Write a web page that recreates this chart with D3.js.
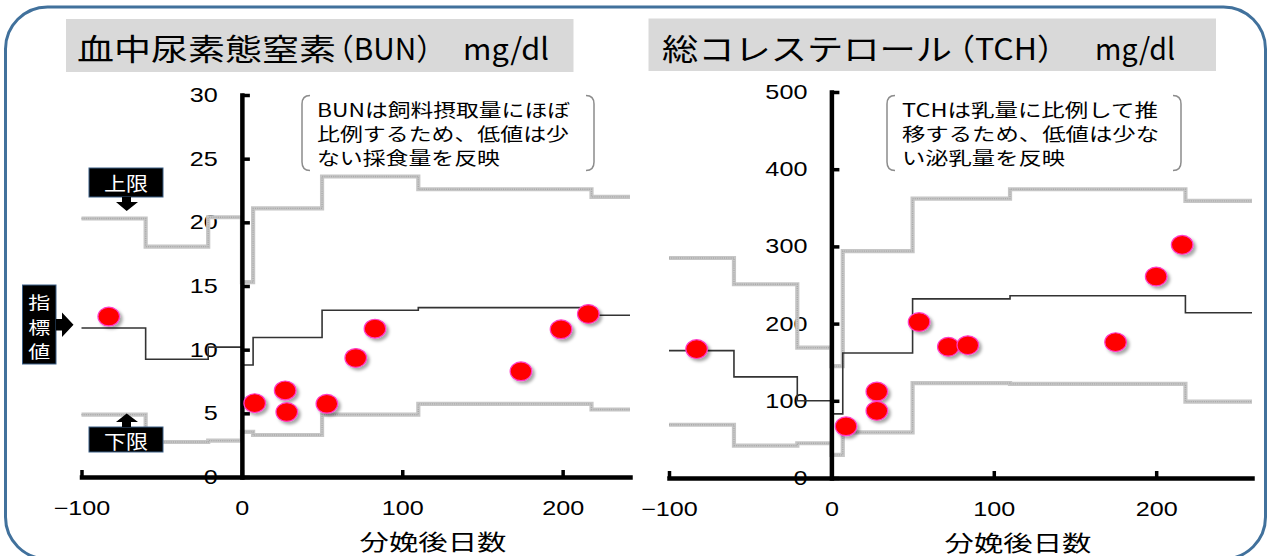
<!DOCTYPE html>
<html><head><meta charset="utf-8">
<script src="https://cdnjs.cloudflare.com/ajax/libs/d3/7.8.5/d3.min.js"></script>
<style>body{margin:0;background:#fff}svg{display:block}</style>
</head><body><svg id="c" width="1269" height="556"></svg>
<script>
// ---- data ----
const bunDays = [-83, 8, 27, 28, 53, 71, 83, 174, 199, 216];
const bunValues = [12.6, 5.8, 6.8, 5.1, 5.75, 9.35, 11.65, 8.3, 11.6, 12.8];
const tchDays = [-83, 9, 28, 28, 54, 72, 84, 175, 200, 216];
const tchValues = [167, 67, 112, 87, 202, 170, 172, 176, 261, 302];
const stepDays = [-100, -60, -21, 0, 7, 50, 110, 218];
const bunIndex = [11.7, 9.25, 10.2, 8.8, 10.95, 13.1, 13.3, 12.7];
const bunUpper = [20.3, 18.1, 20.4, 15.3, 21.1, 23.6, 22.6, 22.0];
const bunLower = [4.9, 2.75, 2.85, 3.55, 3.3, 4.9, 5.75, 5.3];
const tchIndex = [165, 131, 100, 83, 162, 232, 236, 214];
const tchUpper = [285, 251, 169, 145, 294, 362, 374, 359];
const tchLower = [69, 42, 45, 30, 59, 123, 122, 99];
const bunYTicks = [0, 5, 10, 15, 20, 25, 30];
const tchYTicks = [0, 100, 200, 300, 400, 500];
const xTicks = [-100, 0, 100, 200];
const bunXMax = 242, tchXMax = 259;
const bunTitle = ["血中尿素態窒素", "（BUN）", "mg/dl"];
const tchTitle = ["総コレステロール", "（TCH）", "mg/dl"];
const bunNote = ["BUNは飼料摂取量にほぼ", "比例するため、低値は少", "ない採食量を反映"];
const tchNote = ["TCHは乳量に比例して推", "移するため、低値は少な", "い泌乳量を反映"];
const xTitle = "分娩後日数";
const labelUpper = "上限", labelLower = "下限", labelIndex = ["指", "標", "値"];

// ---- drawing ----
const svg = d3.select("#c");
const JP = "'Noto Sans CJK JP','Noto Sans',sans-serif";
const LAT = "'Liberation Sans',Arial,sans-serif";
const defs = svg.append("defs");
const flt = defs.append("filter").attr("id", "sh").attr("x", "-50%").attr("y", "-50%").attr("width", "200%").attr("height", "200%");
flt.append("feDropShadow").attr("dx", 2.5).attr("dy", 2.5).attr("stdDeviation", 1.4)
  .attr("flood-color", "#000").attr("flood-opacity", 0.35);

svg.append("rect").attr("x", 5.5).attr("y", 7).attr("width", 1260).attr("height", 552).attr("rx", 42)
  .attr("fill", "#fff").attr("stroke", "#41719c").attr("stroke-width", 3);

function txt(g, s, x, y, size, len, opts = {}) {
  const t = g.append("text").attr("x", x).attr("y", y).attr("font-size", size)
    .attr("font-family", opts.family || JP).attr("fill", opts.fill || "#000")
    .attr("dominant-baseline", "central").text(s);
  if (opts.anchor) t.attr("text-anchor", opts.anchor);
  if (len) t.attr("textLength", len).attr("lengthAdjust", "spacingAndGlyphs");
  return t;
}

const panels = [
  { xMax: bunXMax, xr: [81.5, 630], yMax: 30, yr: [477, 95], yTicks: bunYTicks,
    days: bunDays, vals: bunValues, idx: bunIndex, up: bunUpper, lo: bunLower,
    box: [66, 19, 507.5, 53], title: bunTitle, tx: [[77, 259], [324, 122], [463, 86]],
    note: bunNote, nx: 317, nlen: [253, 252, 183], br: [302, 594], xt: [433, 540] },
  { xMax: tchXMax, xr: [669, 1252], yMax: 500, yr: [478, 92], yTicks: tchYTicks,
    days: tchDays, vals: tchValues, idx: tchIndex, up: tchUpper, lo: tchLower,
    box: [648.5, 18.5, 567.5, 52.5], title: tchTitle, tx: [[662, 290], [943, 126], [1095, 80]],
    note: tchNote, nx: 902, nlen: [256, 257, 163], br: [887, 1181], xt: [1018, 541] }
];

const SX = 1.26;
panels.forEach(p => {
  const g = svg.append("g");
  // title box
  g.append("rect").attr("x", p.box[0]).attr("y", p.box[1]).attr("width", p.box[2]).attr("height", p.box[3]).attr("fill", "#d9d9d9");
  p.title.forEach((s, i) => txt(g, s, p.tx[i][0], 46.5, 30, p.tx[i][1]));
  // note brackets
  const [bl, brr] = p.br;
  g.append("path").attr("d", `M${bl + 8},95.5 Q${bl},95.5 ${bl},104 L${bl},162 Q${bl},170.5 ${bl + 8},170.5`)
    .attr("fill", "none").attr("stroke", "#8c8c8c").attr("stroke-width", 1.5);
  g.append("path").attr("d", `M${brr - 8},95.5 Q${brr},95.5 ${brr},104 L${brr},162 Q${brr},170.5 ${brr - 8},170.5`)
    .attr("fill", "none").attr("stroke", "#8c8c8c").attr("stroke-width", 1.5);
  p.note.forEach((s, i) => txt(g, s, p.nx, 108.5 + i * 24, 18, p.nlen[i]));

  const x = d3.scaleLinear().domain([-100, p.xMax]).range(p.xr);
  const y = d3.scaleLinear().domain([0, p.yMax]).range(p.yr);
  const x0 = x(0);

  // y tick labels (under series)
  const yl = g.append("g").attr("font-family", LAT).attr("font-size", 20).attr("fill", "#000");
  p.yTicks.forEach(v => {
    yl.append("text").attr("transform", `translate(${x0 - 24},${y(v)}) scale(${SX},1)`)
      .attr("text-anchor", "end").attr("dy", "0.35em").text(v);
  });

  const line = d3.line().x(d => x(d[0])).y(d => y(d[1])).curve(d3.curveStepAfter);
  const pts = arr => stepDays.map((d, i) => [d, arr[i]]).concat([[p.xMax, arr[arr.length - 1]]]);
  [p.up, p.lo].forEach(arr => {
    g.append("path").attr("d", line(pts(arr))).attr("fill", "none").attr("stroke", "#c6c6c6").attr("stroke-width", 4.2);
    g.append("path").attr("d", line(pts(arr))).attr("fill", "none").attr("stroke", "#a9a9a9").attr("stroke-width", 1.3).attr("stroke-dasharray", "1 1.2");
  });
  g.append("path").attr("d", line(pts(p.idx))).attr("fill", "none").attr("stroke", "#333").attr("stroke-width", 1.6);

  // axes
  const xa = g.append("g").attr("transform", `translate(0,${y(0)})`)
    .call(d3.axisBottom(x).tickValues(xTicks).tickSizeInner(-7).tickSizeOuter(0).tickPadding(23.5));
  const ya = g.append("g").attr("transform", `translate(${x0},0)`)
    .call(d3.axisLeft(y).tickValues(p.yTicks).tickSizeInner(-8).tickSizeOuter(0).tickFormat(""));
  [xa, ya].forEach(a => {
    a.select(".domain").attr("stroke", "#000").attr("stroke-width", 4.5).attr("stroke-linecap", "square");
    a.selectAll(".tick line").attr("stroke", "#000").attr("stroke-width", 3.5);
  });
  xa.selectAll(".tick text").attr("font-family", LAT).attr("font-size", 20).attr("fill", "#000")
    .attr("transform", `scale(${SX},1)`);

  // axis title
  txt(g, xTitle, p.xt[0], p.xt[1], 21.5, 147, { anchor: "middle" });

  // points
  g.append("g").selectAll("ellipse").data(p.days).join("ellipse")
    .attr("cx", (d) => x(d)).attr("cy", (d, i) => y(p.vals[i]))
    .attr("rx", 10.8).attr("ry", 9.4).attr("fill", "#ff0000")
    .attr("stroke", "#ff3cc8").attr("stroke-width", 1.2).attr("filter", "url(#sh)");
});

// legend-like labels (left chart)
const lg = svg.append("g");
function labelBox(x, y, w, h) {
  lg.append("rect").attr("x", x).attr("y", y).attr("width", w).attr("height", h)
    .attr("fill", "#000").attr("stroke", "#3b5f86").attr("stroke-width", 1);
}
labelBox(89, 168, 74, 29);
txt(lg, labelUpper, 126, 182.5, 19, 44, { anchor: "middle", fill: "#fff" });
lg.append("path").attr("d", "M122,197 L131,197 L131,202 L138,202 L126.7,211 L116,202 L122,202 Z").attr("fill", "#000");

labelBox(89, 427, 74, 25);
txt(lg, labelLower, 126, 440, 19, 44, { anchor: "middle", fill: "#fff" });
lg.append("path").attr("d", "M122,427 L131,427 L131,422 L138,422 L126.7,413.5 L116,422 L122,422 Z").attr("fill", "#000");

labelBox(22.5, 285, 33.5, 79);
labelIndex.forEach((s, i) => txt(lg, s, 39.3, 301.5 + i * 24.7, 17, 22, { anchor: "middle", fill: "#fff" }));
lg.append("path").attr("d", "M56,319 L62,319 L62,312.5 L73.5,324.7 L62,337 L62,330.5 L56,330.5 Z").attr("fill", "#000");
</script></body></html>
